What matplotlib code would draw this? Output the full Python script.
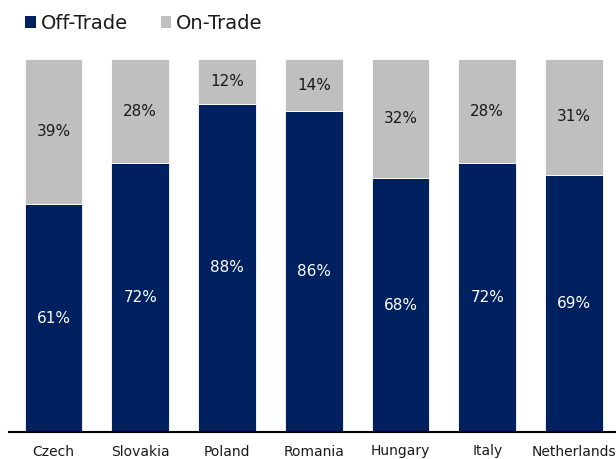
import matplotlib
matplotlib.use("Agg")
import matplotlib.pyplot as plt
from matplotlib.patches import Patch

countries = ["Czech", "Slovakia", "Poland", "Romania", "Hungary", "Italy", "Netherlands"]
off_trade = [61, 72, 88, 86, 68, 72, 69]
on_trade = [39, 28, 12, 14, 32, 28, 31]

navy = "#002060"
grey = "#BFBFBF"

fig = plt.figure(figsize=(6.16, 4.59), dpi=100)
ax = fig.add_axes([9 / 616, 27 / 459, 607 / 616, 373 / 459])

x = range(len(countries))
width = 0.668
ax.bar(x, off_trade, width, color=navy, edgecolor="white", linewidth=0.6)
ax.bar(x, on_trade, width, bottom=off_trade, color=grey, edgecolor="white", linewidth=0.6)

for i, (o, n) in enumerate(zip(off_trade, on_trade)):
    ax.text(i, o / 2, f"{o}%", ha="center", va="center", color="white", fontsize=11)
    ax.text(i, o + n / 2, f"{n}%", ha="center", va="center", color="#1a1a1a", fontsize=11)

ax.set_xlim(-0.513, 6.484)
ax.set_ylim(0, 100)
ax.set_xticks(list(x))
ax.set_xticklabels(countries, fontsize=10, color="#1a1a1a")
ax.tick_params(axis="x", length=0, pad=9)
ax.set_yticks([])
for side in ("top", "right", "left"):
    ax.spines[side].set_visible(False)
ax.spines["bottom"].set_linewidth(1.5)
ax.spines["bottom"].set_color("black")

handles = [Patch(facecolor=navy, label="Off-Trade"), Patch(facecolor=grey, label="On-Trade")]
fig.legend(handles=handles, loc="upper left", bbox_to_anchor=(25 / 616, 1 - 14 / 459), ncol=2,
           frameon=False, fontsize=14, handlelength=0.55, handleheight=0.55,
           handletextpad=0.25, columnspacing=1.7, borderpad=0, borderaxespad=0,
           labelcolor="#1a1a1a")

fig.savefig("out.png", dpi=100)
